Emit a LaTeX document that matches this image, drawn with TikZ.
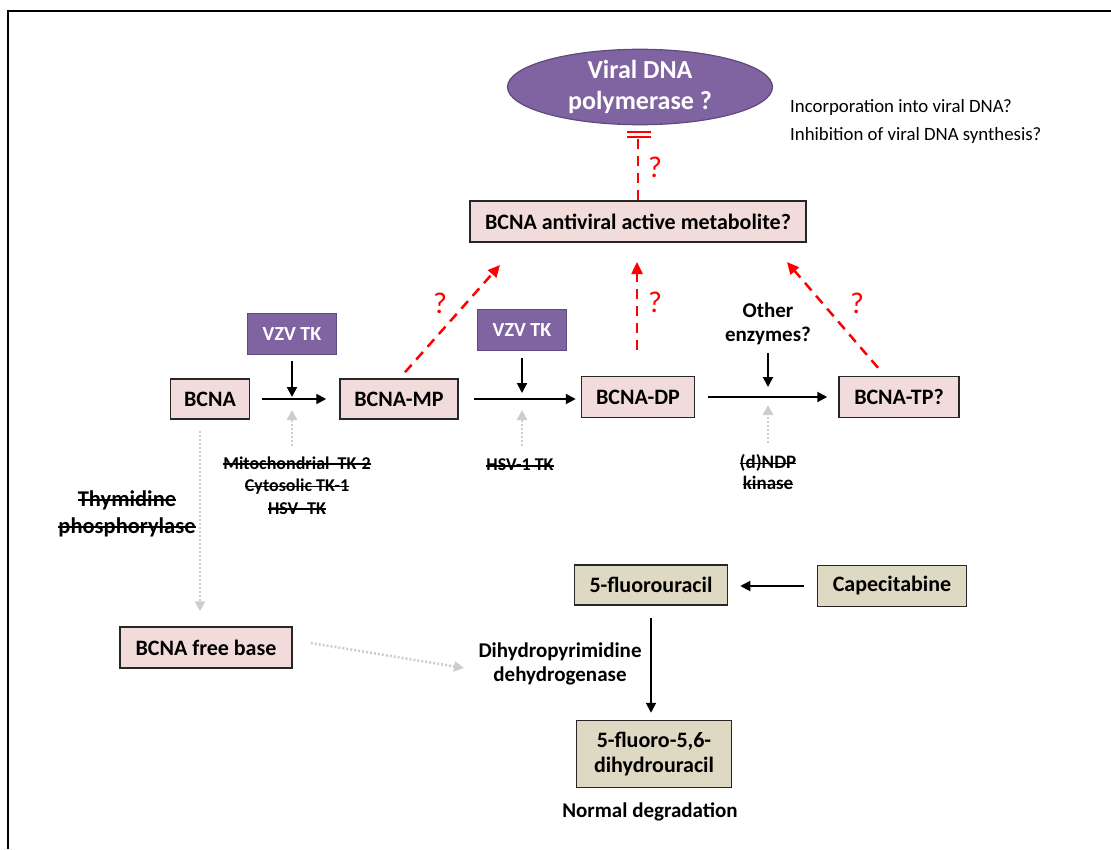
\documentclass[tikz,border=0pt]{standalone}
\usepackage{fontspec}
\setmainfont{Carlito}
\usetikzlibrary{arrows.meta,shapes.geometric}

\newcommand{\xstrike}[1]{\setbox0\hbox{#1}\rlap{\rule[0.24em]{\wd0}{1.5pt}}\box0}

\definecolor{pinkfill}{HTML}{F2DCDB}
\definecolor{purplefill}{HTML}{8064A2}
\definecolor{purpledraw}{HTML}{5E4A7C}
\definecolor{tanfill}{HTML}{DDD9C3}
\definecolor{boxdraw}{HTML}{262626}
\definecolor{dotgray}{HTML}{CDCDCD}
\definecolor{qred}{HTML}{FF0000}

\tikzset{
  boxbase/.style={draw=boxdraw, line width=1.5pt, inner sep=0pt, align=center,
    font=\fontsize{22}{25}\selectfont\bfseries},
  pbox/.style={boxbase, fill=pinkfill},
  tbox/.style={boxbase, fill=tanfill},
  vbox/.style={draw=purpledraw, line width=1.2pt, fill=purplefill, text=white,
    minimum width=89pt, minimum height=41pt, inner sep=0pt,
    font=\fontsize{20}{24}\selectfont\bfseries},
  ellnode/.style={ellipse, draw=purpledraw, line width=1.2pt, fill=purplefill, text=white,
    minimum width=265pt, minimum height=72pt, inner sep=0pt, align=center,
    font=\fontsize{26}{31}\selectfont\bfseries},
  note/.style={inner sep=0pt, font=\fontsize{18.8}{22}\selectfont},
  lab/.style={inner sep=0pt, align=center, font=\fontsize{21}{24}\selectfont\bfseries},
  strikelab/.style={inner sep=0pt, align=center, font=\fontsize{18}{22.5}\selectfont\bfseries},
  strikebig/.style={inner sep=0pt, align=center, font=\fontsize{22.5}{27}\selectfont\bfseries},
  qmark/.style={inner sep=0pt, text=qred, font=\fontsize{30}{36}\selectfont},
  arr/.style={draw=black, line width=2pt, -{Triangle[length=10pt,width=10pt]}},
  grayarr/.style={draw=dotgray, line width=2.5pt, dash pattern=on 2pt off 2pt,
    -{Triangle[length=10pt,width=10pt]}},
  redarr/.style={draw=qred, line width=2.5pt, dash pattern=on 10pt off 7pt,
    -{Triangle[length=12pt,width=11pt]}},
  reddash/.style={draw=qred, line width=2.5pt, dash pattern=on 10pt off 7pt},
  redbar/.style={draw=qred, line width=2.2pt}
}

\begin{document}
\begin{tikzpicture}[x=1pt,y=-1pt]
\useasboundingbox (0,0) rectangle (1111,849);
\fill[white] (0,0) rectangle (1111,849);
\draw[line width=2pt] (8,849) -- (8,11) -- (1111,11);

% nodes
\node[ellnode] (pol) at (640,87) {Viral DNA\\polymerase ?};
\node[note, anchor=west] (inc) at (790,107) {Incorporation into viral DNA?};
\node[note, anchor=west] (inhtxt) at (790,135) {Inhibition of viral DNA synthesis?};
\node[pbox, minimum width=336pt, minimum height=41pt] (met) at (638,221.5) {BCNA antiviral active metabolite?};

\node[vbox] (vzv1) at (292,334) {VZV TK};
\node[vbox] (vzv2) at (522,330) {VZV TK};

\node[pbox, minimum width=79pt, minimum height=40pt] (bcna) at (210,399) {BCNA};
\node[pbox, minimum width=118pt, minimum height=40pt] (mp) at (399,399) {BCNA-MP};
\node[pbox, minimum width=113pt, minimum height=41pt] (dp) at (638,397) {BCNA-DP};
\node[pbox, minimum width=120pt, minimum height=41pt] (tp) at (899,397) {BCNA-TP?};

\node[lab] (oth) at (768,324) {Other\\enzymes?};

\node[strikelab] (tk2) at (297,485.5) {\xstrike{Mitochondrial~ TK-2}\\\xstrike{Cytosolic TK-1}\\\xstrike{HSV- TK}};
\node[strikelab] (hsv1) at (520,465) {\xstrike{HSV-1 TK}};
\node[strikelab, font=\fontsize{19}{21}\selectfont\bfseries] (ndp) at (768,472.5) {\xstrike{(d)NDP}\\\xstrike{kinase}};
\node[strikebig] (thp) at (127,513.5) {\xstrike{Thymidine}\\\xstrike{phosphorylase}};

\node[pbox, minimum width=172pt, minimum height=41pt] (fb) at (206,647.5) {BCNA free base};
\node[tbox, minimum width=153pt, minimum height=40pt] (fu) at (651,585) {5-fluorouracil};
\node[tbox, minimum width=149pt, minimum height=41pt] (cap) at (892,586) {Capecitabine};
\node[lab] (dpd) at (560,664) {Dihydropyrimidine\\dehydrogenase};
\node[tbox, minimum width=155pt, minimum height=67pt] (dhu) at (654,754) {5-fluoro-5,6-\\dihydrouracil};
\node[lab] (norm) at (650,812) {Normal degradation};

% question marks
\node[qmark] (q0) at (655,167) {?};
\node[qmark] (q1) at (440,303) {?};
\node[qmark] (q2) at (655,302) {?};
\node[qmark] (q3) at (857,303) {?};

% coordinates
\coordinate (j1) at (292,398);
\coordinate (j2) at (522,397);
\coordinate (j3) at (768,397);
\coordinate (g1) at (292,446);
\coordinate (g2) at (522,446);
\coordinate (g3) at (768,443);
\coordinate (t1) at (500,265);
\coordinate (t2) at (637,262);
\coordinate (t3) at (787,262);
\coordinate (ib) at (638,137);
\coordinate (dtip) at (464,668);

% main chain
\draw[arr, shorten <=12pt, shorten >=13pt] (bcna) -- (mp);
\draw[arr, shorten <=15pt, shorten >=5pt] (mp.east) -- (mp.east -| dp.west);
\draw[arr, shorten <=13pt, shorten >=11pt] (dp) -- (tp);

\draw[arr, shorten <=6pt, shorten >=1pt] (vzv1) -- (j1);
\draw[arr, shorten <=7pt, shorten >=4pt] (vzv2) -- (j2);
\draw[arr, shorten <=8pt, shorten >=10pt] (oth.south) -- (j3);

\draw[grayarr, shorten >=12pt] (g1) -- (j1);
\draw[grayarr, shorten >=13pt] (g2) -- (j2);
\draw[grayarr, shorten >=8pt] (g3) -- (j3);

% red
\draw[redarr] ([xshift=6pt,yshift=6pt]mp.north) -- (t1);
\draw[redarr] ([xshift=-1pt,yshift=26pt]dp.north) -- (t2);
\draw[redarr] ([xshift=-21pt,yshift=8pt]tp.north) -- (t3);
\draw[reddash] (met.north -| ib) -- (ib);
\draw[redbar] ([xshift=-11pt]ib) -- ([xshift=13pt]ib);
\draw[redbar] ([xshift=-11pt,yshift=5pt]ib) -- ([xshift=13pt,yshift=5pt]ib);

% lower part
\draw[grayarr, shorten <=11pt, shorten >=15pt] ([xshift=-10pt]bcna.south) -- ([xshift=-6pt]fb.north);
\draw[grayarr] ([xshift=18pt,yshift=4.5pt]fb.east) -- (dtip);
\draw[arr, shorten <=13pt, shorten >=12pt] (cap.west) -- (cap.west -| fu.east);
\draw[arr, shorten <=12pt, shorten >=7pt] (fu.south) -- (fu.south |- dhu.north);
\end{tikzpicture}
\end{document}
